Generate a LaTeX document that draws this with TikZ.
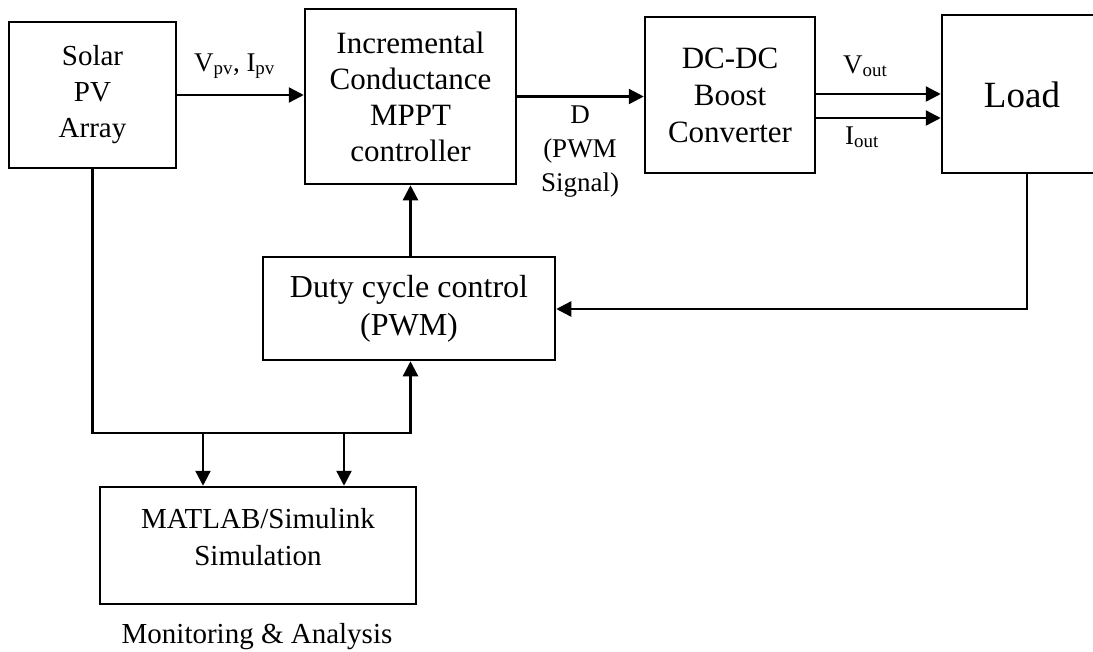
\documentclass[tikz,border=0pt]{standalone}
\usepackage{fontspec}
\setmainfont{Liberation Serif}
\usetikzlibrary{arrows.meta}
\tikzset{
  blk/.style={draw, line width=2.5pt, inner sep=0pt, align=center},
  conn/.style={line width=2.4pt},
  arr/.style={conn, -{Triangle[length=15pt,width=15pt]}},
  lbl/.style={inner sep=0pt, font=\fontsize{27}{34}\selectfont}
}
\begin{document}
\begin{tikzpicture}[x=1pt,y=-1pt]
\useasboundingbox (0,0) rectangle (1093,651);
% blocks
\node[blk, minimum width=167pt, minimum height=146pt, font=\fontsize{29}{36}\selectfont] (solar) at (92.5,95) {Solar\\PV\\Array};
\node[blk, minimum width=211pt, minimum height=175pt, font=\fontsize{31}{36}\selectfont] (mppt) at (410.5,96.5) {Incremental\\Conductance\\MPPT\\controller};
\node[blk, minimum width=170pt, minimum height=156pt, font=\fontsize{31}{37}\selectfont] (dcdc) at (730,95) {DC-DC\\Boost\\Converter};
\node[blk, minimum width=160pt, minimum height=158pt] (load) at (1022,94) {};
\node[inner sep=0pt, font=\fontsize{37}{40}\selectfont] (loadtxt) at (1022,95) {Load};
\node[blk, minimum width=292pt, minimum height=103pt, font=\fontsize{32}{38}\selectfont] (duty) at (409,308.5) {Duty cycle control\\(PWM)};
\node[blk, minimum width=316pt, minimum height=117pt] (matlab) at (258,545.5) {};
\node[inner sep=0pt, align=center, font=\fontsize{29}{37}\selectfont] (matlabtxt) at (258,537) {MATLAB/Simulink\\Simulation};
\node[inner sep=0pt, anchor=base, font=\fontsize{29}{36}\selectfont] (mon) at (257,643) {Monitoring \& Analysis};
% helper coordinates
\coordinate (yv) at (0,94);
\coordinate (yi) at (0,118);
\coordinate (fb) at (1027,309);
\coordinate (bus) at (92.5,433);
\coordinate (b1) at (203,433);
\coordinate (b2) at (344,433);
% connectors
\draw[arr] (solar.east) -- (solar.east -| mppt.west);
\draw[arr] (mppt.east) -- (mppt.east -| dcdc.west);
\draw[arr] (dcdc.east |- yv) -- (load.west |- yv);
\draw[arr] (dcdc.east |- yi) -- (load.west |- yi);
\draw[arr] (load.south -| fb) -- (fb) -- (duty.east |- fb);
\draw[arr] (mppt.south |- duty.north) -- (mppt.south);
\draw[arr] (solar.south) -- (bus) -- (bus -| mppt.south) -- (mppt.south |- duty.south);
\draw[arr] (b1) -- (b1 |- matlab.north);
\draw[arr] (b2) -- (b2 |- matlab.north);
% labels
\node[lbl, anchor=base] (lvpv) at (234.5,71) {V\textsubscript{pv}, I\textsubscript{pv}};
\node[lbl, align=center] (ld) at (580,152) {D\\(PWM\\Signal)};
\node[lbl, anchor=base west] (lvout) at (843,73) {V\textsubscript{out}};
\node[lbl, anchor=base west] (liout) at (845,144) {I\textsubscript{out}};
\end{tikzpicture}
\end{document}
